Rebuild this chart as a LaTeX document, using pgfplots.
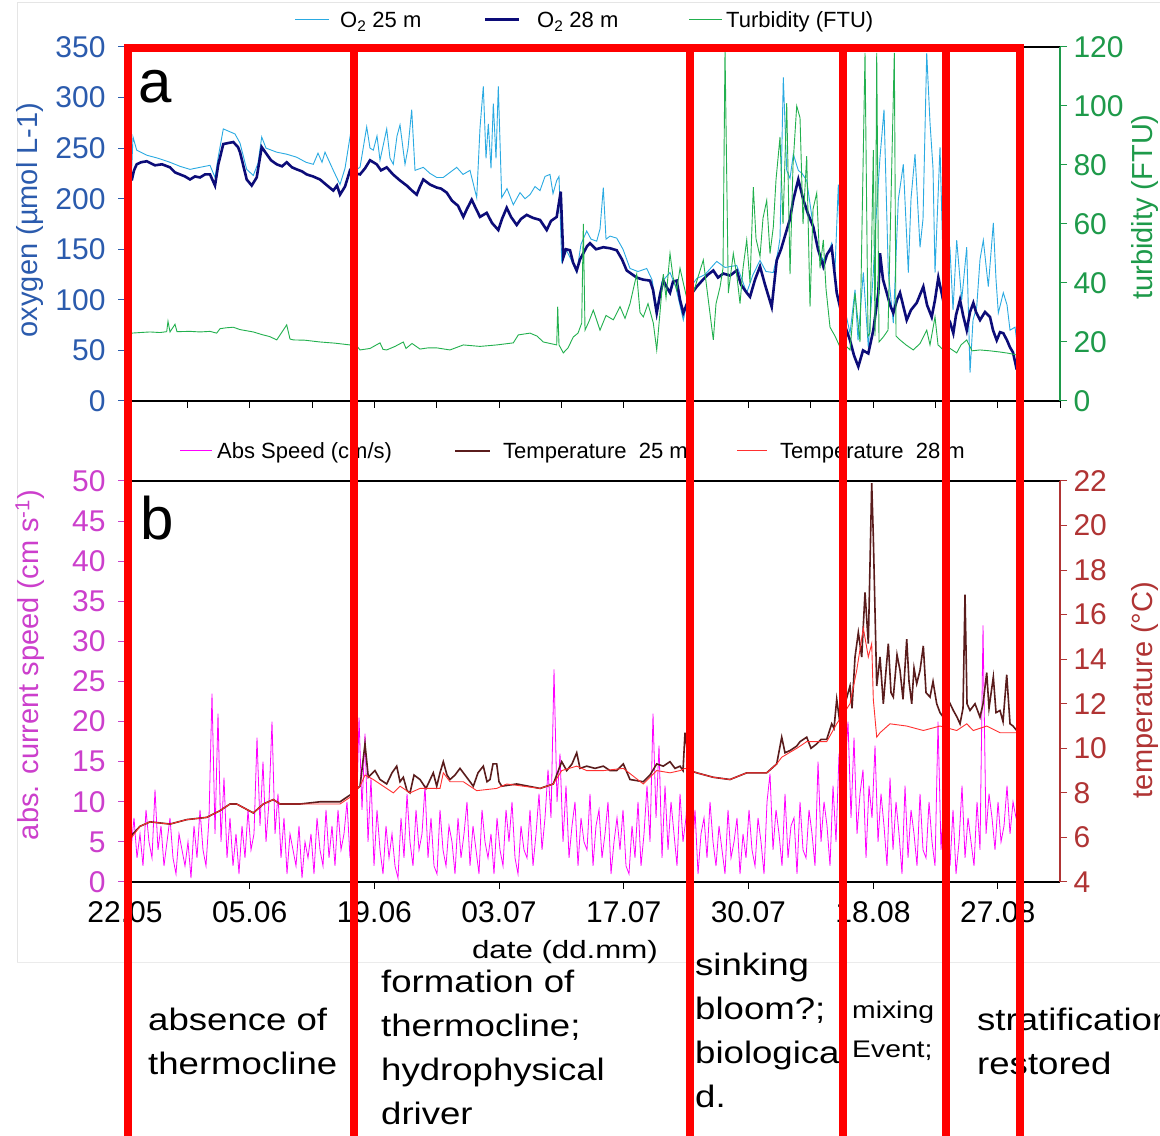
\documentclass[border=0pt]{standalone}
\usepackage{graphicx}
\usepackage{pgfplots}
\pgfplotsset{compat=1.18}
\usepackage{fontspec}
\setmainfont{Liberation Sans}
\definecolor{oxyaxis}{HTML}{2B5BAD}
\definecolor{turbaxis}{HTML}{1E9A4A}
\definecolor{otwofive}{HTML}{2AAAE2}
\definecolor{otwoeight}{HTML}{0C0C78}
\definecolor{turbline}{HTML}{22B04E}
\definecolor{spdaxis}{HTML}{CC3FCC}
\definecolor{spdline}{HTML}{FF00FF}
\definecolor{tempaxis}{HTML}{B03434}
\definecolor{ttwofive}{HTML}{5A1C1C}
\definecolor{ttwoeight}{HTML}{FF3030}
\newcommand{\fs}[1]{\fontsize{#1bp}{#1bp}\selectfont}
\newcommand{\wide}[1]{\scalebox{1.18}[1]{#1}}
\pgfplotsset{
  base/.style={
    scale only axis, width=935bp, xmin=125, xmax=1060,
    anchor=south west,
    tick align=outside, major tick length=7bp,
    /pgf/number format/assume math mode=true,
    ticklabel style={font=\fs{30}},
  },
}
\begin{document}
\begin{tikzpicture}[x=1bp,y=1bp]
\useasboundingbox (0,0) rectangle (1160,1136);
\fill[white] (0,0) rectangle (1160,1136);
\draw[black!10, line width=1bp] (17,1133) -- (1160,1133);
\draw[black!10, line width=1bp] (17,1133) -- (17,173);
\draw[black!8, line width=1bp] (17,173) -- (1160,173);
% ---------------- panel a ----------------
\begin{axis}[base, at={(125bp,735bp)}, height=354bp,
  ymin=0, ymax=350, ytick={0,50,...,350},
  xtick={125,187.33,249.67,312,374.33,436.67,499,561.33,623.67,686,748.33,810.67,873,935.33,997.67,1060},
  xticklabels={}, tick pos=left,
  separate axis lines,
  x axis line style={black, line width=1.3bp},
  y axis line style={oxyaxis, line width=1.3bp},
  xtick style={black, line width=1bp}, ytick style={oxyaxis, line width=1bp},
  yticklabel style={oxyaxis, xshift=-9bp},
]
\addplot[otwofive, line width=0.9bp] coordinates {
(131.7,230) (133,261) (136.7,248) (146.7,243) (158,240) (170,236) (180,232) (190,229) (200,231) (210,233) (215,221)
(218,240) (223.3,269) (235,264) (240,255) (246.7,229) (253.3,223) (258,235) (261.7,261) (266,250) (276.7,246) (286.7,244) (296.7,241)
(306,236) (313.3,234) (318,245) (322,236) (325,246) (333.3,228) (340,214) (345,230) (350,261) (355,228) (360,231) (366.7,271) (370,250) (373.3,248)
(377,262) (380,238) (386.7,269) (390,240) (393.3,234) (397,262) (400,273) (405,234) (408,250) (411.7,288) (415,228) (423.3,231)
(430,225) (436.7,221) (443.3,221) (450,226) (456.7,231) (463,224) (470,228) (476.7,201) (480,270) (483.3,311) (486,240) (488.3,274)
(491,230) (493.3,294) (496,240) (498.3,311) (501.7,201) (507,210) (513.3,194) (520,206) (525,200) (530,204) (535,212) (540,208) (545,222)
(550,224) (553,205) (556.7,218) (559,222) (561.7,138) (566,150) (571,140) (576.7,127) (581,155) (586.7,168) (591,160) (596.7,158) (600,170) (603.3,211)
(606,160) (610,163) (616.7,161) (623,150) (630,131) (638,128) (646.7,131) (652,120) (656.7,91) (662,118) (670,127) (676,112) (683.3,80)
(690,112) (696.7,121) (705,125) (716.7,138) (725,132) (736.7,134) (742,120) (746.7,107) (753,125) (760,139) (766,128) (773.3,127)
(778,148) (780,161) (783.3,320) (786.7,228) (790,220) (793.3,244) (798.3,228) (802,225) (806.7,218) (813.3,172) (818,150) (823.3,139)
(828,146) (831.7,156) (835,130) (838.3,214) (841.7,100) (845,90) (850,67) (855,110) (858,60) (863.3,127) (868.3,53) (873.3,127)
(876,180) (880,241) (884,288) (888.3,127) (893.3,77) (898.3,199) (903.3,234) (908.3,127) (911,200) (915,244) (920,152) (923,180)
(926.7,344) (930,275) (933,230) (935,127) (940,251) (943.3,127) (947,140) (950,150) (953,90) (956.7,159) (961.7,100) (966.7,152)
(970,28) (973,80) (976.7,93) (980,140) (983.3,159) (988.3,113) (993.3,176) (996,120) (998.3,87) (1003.3,107) (1007,95) (1010,70) (1015,73) (1018.3,47)
};
\addplot[otwoeight, line width=2.6bp] coordinates {
(131.7,218) (134,228) (136.7,234) (141,236) (146.7,237) (155,233) (162,234) (170,231) (175,226) (180,224) (185,222) (190,219) (195,222)
(200,221) (205,224) (210,224) (215,213) (218.3,234) (223.3,254) (228,255) (233.3,256) (238,251) (240,246) (246.7,219) (251.7,213)
(256.7,221) (261.7,251) (266.7,244) (271,238) (276.7,234) (282,232) (286.7,236) (292,231) (296.7,229) (302,227) (306.7,224) (313,222)
(320,219) (326,214) (333.3,208) (337,213) (340,204) (345,212) (350,228) (355,225) (360,224) (365,230) (370,238) (376.7,234) (381,228)
(386.7,231) (393,224) (400,218) (406.7,213) (412,208) (416.7,204) (420,212) (423.3,219) (430,214) (436.7,211) (441,210) (446.7,206)
(452,198) (458,193) (463.3,182) (467,190) (471.7,199) (476,190) (480,182) (486.7,186) (492,176) (498.3,169) (502,180) (506.7,191)
(511,182) (516.7,174) (521,180) (526.7,184) (533,181) (540,179) (546.7,169) (551,178) (556.7,182) (560.7,207) (563.3,142) (566,150)
(570,149) (573,137) (576.7,129) (580,140) (583.3,146) (587,153) (590,156) (596,150) (603.3,152) (610,151) (616.7,149) (622,140)
(626.7,129) (631,126) (636.7,122) (643,120) (650,119) (653,110) (656.7,87) (660,105) (663.3,119) (667,112) (670,107) (673,118) (676.7,119)
(680,100) (683.3,87) (690,104) (696.7,113) (703,120) (708,125) (713.3,129) (718,122) (723.3,126) (730,124) (736.7,129) (741,115)
(746.7,107) (750,103) (755,120) (760,133) (765,115) (771.7,93) (776.7,139) (781,150) (786.7,169) (790,180) (793.3,199) (798.3,219)
(803.3,199) (808,185) (813.3,172) (818,150) (823.3,133) (827,145) (831.7,152) (836.7,107) (843,80) (850,60) (854,45) (858.3,34)
(863,50) (868.3,47) (873.3,70) (878.3,107) (880,146) (883,120) (886.7,107) (890,95) (893.3,87) (897,100) (900,107) (906.7,80)
(911,90) (916.7,97) (920,105) (923.3,113) (927,95) (931.7,83) (935,100) (938.3,122) (942,105) (946,85) (950,78) (953.3,67) (956,85)
(960,100) (963,85) (966.7,70) (970,88) (973.3,97) (976,88) (980,80) (985,88) (990,83) (993,70) (996.7,60) (1000,68) (1003.3,67)
(1007,60) (1010,53) (1013,48) (1016.7,31)
};
\end{axis}
\begin{axis}[base, at={(125bp,735bp)}, height=354bp,
  ymin=0, ymax=120, ytick={0,20,...,120},
  axis x line=none, axis y line*=right,
  y axis line style={turbaxis, line width=1.3bp},
  ytick style={turbaxis, line width=1bp}, yticklabel style={turbaxis, xshift=3bp},
]
\addplot[turbline, line width=0.9bp] coordinates {
(131.7,23) (140,23.2) (150,23.4) (160,23.2) (166.7,23.5) (168,27) (170,23.4) (175,26) (177,23.5) (190,23.6) (200,23.4) (210,23.6)
(216.7,23) (220,24.5) (226,24.8) (233.3,25) (240,24.2) (253.3,23.4) (262,22.5) (270,21.8) (276.7,20.7) (286.7,25.8) (290,21) (293.3,20.7)
(305,20.6) (320,20) (335,19.6) (350,19) (355,19.4) (360,17.3) (370,17.8) (380,19.7) (383,17.5) (386.7,17.3) (395,18.5) (403.3,20) (406,17.8)
(412,19.5) (420,17.6) (428,18) (436.7,18) (450,17.3) (463.3,19) (480,18.5) (496.7,19) (513.3,19.7) (518.3,22.4) (530,23) (537,22)
(543.3,20) (556.7,19) (557.7,32) (559,19) (563.3,16.3) (568,18) (573.3,21.7) (578,23) (581.7,26.4) (583.3,60) (585,24) (589,27)
(593.3,30.8) (600,24) (606,29) (613.3,27.5) (620,32) (625,28) (630,33) (636.7,43) (640,30) (643.3,28.5) (648,33) (653.3,26.4) (656.7,17.3)
(660,30) (663.3,43) (666,35) (670,50) (673,42) (676.7,37.6) (680,45) (683.3,40) (688,33) (693.3,36.6) (698,42) (703.3,47.8) (708,35)
(713.3,20.7) (716,33) (720,38.6) (723,45) (725,119) (728.3,36.6) (733.3,50) (737,42) (740,33) (743,45) (746.7,54.6) (750,40)
(753.3,72.5) (756,55) (760,49) (763,62) (766.7,68) (770,50) (773.3,59) (776,75) (780,89.5) (783,60) (786.7,101) (790,43) (793,80)
(796.7,100) (800,96) (803,60) (806.7,83) (810,32) (813,65) (816.7,70.5) (820,45) (823.3,54.6) (826,38) (830,25) (835,22) (840,18.3)
(845,19) (850,17.3) (855,36.6) (860,20) (865,118) (868,22) (870,23) (873.3,85) (875,22) (876.7,118) (879,20) (883.3,21.7) (888,24)
(894.3,118) (896,22) (900,20.7) (906,19) (913.3,17.3) (920,19.5) (926.7,24) (930,19) (935,28.5) (938,19) (943.3,17.3) (950,17.8)
(956.7,16.3) (961,19) (966.7,20.7) (972,17) (980,17.3) (990,17) (1000,16.6) (1008,16.2) (1016.7,15.6)
};
\end{axis}
% ---------------- panel b ----------------
\begin{axis}[base, at={(125bp,254bp)}, height=401bp,
  ymin=0, ymax=50, ytick={0,5,...,50},
  xtick={125,249.67,374.33,499,623.67,748.33,873,997.67},
  xticklabels={22.05,05.06,19.06,03.07,17.07,30.07,18.08,27.08},
  tick pos=left,
  separate axis lines,
  x axis line style={black, line width=1.3bp},
  y axis line style={spdaxis, line width=1.3bp},
  xtick style={black, line width=1bp}, ytick style={spdaxis, line width=1bp},
  yticklabel style={spdaxis, xshift=-9bp},
  xticklabel style={black, yshift=-9bp},
]
\addplot[spdline, line width=0.8bp] coordinates {
(128,7) (131,4) (134,8) (137,3) (140,6) (143,2) (146,9) (149,5) (152,3) (155,11.5)
(158,4) (161,7) (164,2) (167,5) (170,8) (173,3) (176,1) (179,6) (182,4) (185,2)
(188,5) (191,0.5) (194,7) (197,3) (200,9) (203,4) (206,2) (209,8) (212,23.5) (215,6)
(218,21) (221,5) (224,13) (227,3) (230,8) (233,2) (236,6) (239,1) (242,7) (245,3)
(248,9) (251,4) (254,6) (257,18) (260,7) (263,15) (266,5) (269,10) (272,20) (275,6)
(278,11) (281,3) (284,8) (287,1) (290,6) (293,4) (296,2) (299,7) (302,0.5) (305,5)
(308,3) (311,6) (314,1) (317,8) (320,4) (323,2) (326,9) (329,3) (332,7) (335,2)
(338,9) (341,4) (344,6) (347,10) (350,3) (353,8) (356,6) (359,20.5) (362,9) (365,18.5)
(368,5) (371,13) (374,2) (377,9) (380,4) (383,1) (386,7) (389,3) (392,6) (395,2)
(398,0.5) (401,8) (404,3) (407,11) (410,5) (413,2) (416,9) (419,4) (422,6) (425,12)
(428,3) (431,8) (434,2) (437,1) (440,9) (443,4) (446,2) (449,7) (452,5) (455,1)
(458,8) (461,3) (464,6) (467,10) (470,2) (473,7) (476,4) (479,1) (482,9) (485,5)
(488,3) (491,6) (494,1) (497,8) (500,4) (503,2) (506,9) (509,5) (512,10) (515,3)
(518,1) (521,7) (524,4) (527,3) (530,9) (533,2) (536,6) (539,11) (542,4) (545,8)
(548,14) (551,8) (554,26.5) (557,10) (560,16) (563,5) (566,12) (569,3) (572,7) (575,10)
(578,2) (581,8) (584,5) (587,4) (590,11) (593,2) (596,7) (599,9) (602,3) (605,6)
(608,10) (611,1) (614,5) (617,8) (620,4) (623,9) (626,2) (629,1) (632,7) (635,3)
(638,10) (641,2) (644,6) (647,12) (650,5) (653,21) (656,8) (659,17) (662,3) (665,12)
(668,4) (671,10) (674,6) (677,2) (680,11) (683,5) (686,8) (689,14) (692,3) (695,9)
(698,1) (701,6) (704,8) (707,3) (710,10) (713,5) (716,2) (719,7) (722,4) (725,1)
(728,9) (731,3) (734,5) (737,8) (740,1) (743,6) (746,3) (749,9) (752,4) (755,2)
(758,8) (761,5) (764,1) (767,10) (770,13.5) (773,4) (776,9) (779,6) (782,2) (785,11)
(788,3) (791,7) (794,8) (797,1) (800,10) (803,4) (806,3) (809,9) (812,6) (815,2)
(818,15) (821,5) (824,10) (827,7) (830,2) (833,12) (836,5) (839,16) (842,7) (845,14)
(848,20) (851,8) (854,18) (857,6) (860,11) (863,14) (866,3) (869,12) (872,8) (875,17)
(878,5) (881,11) (884,7) (887,2) (890,13) (893,4) (896,10) (899,6) (902,1) (905,12)
(908,3) (911,9) (914,6) (917,2) (920,11) (923,4) (926,3) (929,10) (932,5) (935,2)
(938,20) (941,4) (944,11) (947,7) (950,2) (953,9) (956,1) (959,5) (962,12) (965,3)
(968,8) (971,5) (974,2) (977,10) (980,4) (983,32) (986,6) (989,11) (992,8) (995,4)
(998,10) (1001,5) (1004,7) (1007,12) (1010,6) (1013,10) (1016,8) (1019,7)
};
\end{axis}
\begin{axis}[base, at={(125bp,254bp)}, height=401bp,
  ymin=4, ymax=22, ytick={4,6,...,22},
  axis x line=none, axis y line*=right,
  y axis line style={tempaxis, line width=1.3bp},
  ytick style={tempaxis, line width=1bp}, yticklabel style={tempaxis, xshift=3bp},
]
\addplot[ttwofive, line width=1.6bp] coordinates {
(131.7,6.1) (140,6.5) (150,6.7) (170,6.6) (186.7,6.8) (206.7,6.9) (220,7.2) (230,7.5) (236.7,7.5) (253.3,7.1) (263.3,7.5) (273.3,7.7)
(280,7.5) (300,7.5) (320,7.6) (340,7.6) (350,7.9) (360,8.3) (365,10.2) (368.3,8.7) (375,9.0) (380,8.6) (386.7,8.4) (392,8.9) (396.7,9.2)
(400,8.5) (403.3,8.7) (407,8.1) (410,8.0) (414,8.8) (420,8.6) (426,8.2) (433.3,8.9) (436.7,8.3) (440,8.9) (443.3,9.4) (447,8.8) (450,8.6)
(455,8.8) (460,9.1) (466.7,8.7) (473.3,8.3) (478,8.9) (483.3,9.2) (487,8.5) (490,8.6) (493,9.3) (496.7,9.3) (499,8.5) (501.7,8.3)
(516.7,8.4) (540,8.2) (553.3,8.4) (561.7,9.4) (566.7,9.0) (572,9.3) (576.7,9.8) (580,9.1) (586.7,9.2) (595,9.1) (603.3,9.2) (610,9.0)
(616.7,9.0) (623.3,9.3) (630,8.6) (643.3,8.5) (650,8.8) (656.7,9.3) (663.3,9.2) (670,9.4) (675,9.1) (680,9.2) (683,9.0) (685,10.7)
(690,9.0) (696.7,8.9) (713.3,8.7) (730,8.6) (746.7,8.9) (753.3,8.9) (766.7,8.9) (776.7,9.3) (781.7,10.5) (785,9.8) (790,9.9)
(796.7,10.1) (800,10.3) (806.7,10.5) (811,10.0) (816.7,10.2) (821,10.4) (826.7,10.4) (831.7,11.1) (834,10.9) (836.7,12.2) (840,11.1)
(845,12.0) (850,12.8) (852,11.8) (855,14.1) (858.3,15.2) (861.7,14.1) (865,17.0) (868.3,14.7) (871.7,21.9) (873.3,19.5) (876.7,12.8)
(880,14.1) (883.3,12.0) (886,13.5) (888.3,14.7) (891,12.5) (893.3,12.3) (897,14.2) (900,13.5) (903,12.2) (906.7,14.9) (909,13.0)
(911.7,12.0) (914,13.6) (916.7,12.9) (920,13.5) (923.3,14.6) (926,12.5) (930,12.3) (933,13.0) (936.7,12.0) (940,11.6) (943.3,11.4)
(948,12.2) (953.3,11.7) (957,11.4) (960,11.1) (963,11.8) (965,16.9) (967,12.0) (970,11.7) (975,12.0) (980,11.4) (983,12.0)
(986.7,13.4) (989,11.8) (993.3,13.2) (996,11.6) (1000,11.7) (1003,11.2) (1006.7,13.3) (1010,11.1) (1013,11.0) (1016.7,10.8)
};
\addplot[ttwoeight, line width=0.9bp] coordinates {
(131.7,6.0) (140,6.5) (150,6.7) (170,6.6) (186.7,6.8) (206.7,6.9) (220,7.2) (230,7.5) (236.7,7.5) (253.3,7.1) (263.3,7.5) (273.3,7.7)
(280,7.5) (300,7.5) (320,7.5) (340,7.5) (350,7.8) (360,8.3) (365,8.8) (373.3,8.6) (380,8.4) (393.3,8.0) (400,8.3) (410,8.0) (420,8.2)
(440,8.2) (443.3,8.9) (450,8.5) (463.3,8.5) (476.7,8.1) (496.7,8.2) (506.7,8.4) (540,8.2) (553.3,8.4) (561.7,9.0) (576.7,9.2) (586.7,9.0)
(603.3,9.0) (623.3,9.1) (643.3,8.4) (656.7,9.0) (670,8.9) (680,9.0) (685,9.1) (696.7,8.9) (713.3,8.7) (730,8.6) (746.7,8.9) (766.7,8.9)
(776.7,9.3) (781.7,9.6) (796.7,10.0) (806.7,10.3) (826.7,10.3) (836.7,11.1) (850,12.0) (856.7,13.5) (863.3,15.4) (868.3,14.1)
(871.7,14.7) (873.3,12.2) (876.7,10.5) (880,10.7) (890,11.1) (906.7,11.0) (923.3,10.8) (940,11.0) (956.7,10.8) (966.7,11.1)
(973.3,10.8) (986.7,11.0) (1000,10.7) (1016.7,10.7)
};
\end{axis}
% ---------------- legends ----------------
\draw[otwofive, line width=1bp] (295,1116) -- (329,1116);
\node[anchor=base west, inner sep=0pt, font=\fs{22}] at (340,1108) {O\textsubscript{2} 25 m};
\draw[otwoeight, line width=3bp] (485,1116) -- (519,1116);
\node[anchor=base west, inner sep=0pt, font=\fs{22}] at (537,1108) {O\textsubscript{2} 28 m};
\draw[turbline, line width=1bp] (689,1116) -- (722,1116);
\node[anchor=base west, inner sep=0pt, font=\fs{22}] at (726,1108) {Turbidity (FTU)};
\draw[spdline, line width=1bp] (180,685) -- (212,685);
\node[anchor=base west, inner sep=0pt, font=\fs{22}] at (217,677) {Abs Speed (cm/s)};
\draw[ttwofive, line width=2bp] (455,685) -- (490,685);
\node[anchor=base west, inner sep=0pt, font=\fs{22}] at (503,677) {Temperature\ \ 25 m};
\draw[ttwoeight, line width=1bp] (737,685) -- (767,685);
\node[anchor=base west, inner sep=0pt, font=\fs{22}] at (780,677) {Temperature\ \ 28 m};
% ---------------- axis labels ----------------
\node[rotate=90, font=\fs{29}, text=oxyaxis] at (30,916) {oxygen (µmol L-1)};
\node[rotate=90, font=\fs{29}, text=turbaxis] at (1145,929) {turbidity (FTU)};
\node[rotate=90, font=\fs{29}, text=spdaxis] at (30,471) {abs. current speed (cm s\textsuperscript{-1})};
\node[rotate=90, font=\fs{29}, text=tempaxis] at (1145,446) {temperature (°C)};
\node[font=\fs{25}] at (565,184) {\scalebox{1.25}[1]{date (dd.mm)}};
\node[anchor=base west, inner sep=0pt, font=\fs{60}] at (138,1033) {a};
\node[anchor=base west, inner sep=0pt, font=\fs{60}] at (140,596) {b};
% ---------------- annotations ----------------
\begin{scope}[every node/.style={anchor=base west, inner sep=0pt, font=\fs{31}}]
\node at (148,105) {\wide{absence of}};
\node at (148,61) {\wide{thermocline}};
\node at (381,143) {\wide{formation of}};
\node at (381,99) {\wide{thermocline;}};
\node at (381,55) {\wide{hydrophysical}};
\node at (381,11) {\wide{driver}};
\node at (695,160) {\wide{sinking}};
\node at (695,116) {\wide{bloom?;}};
\node at (695,72) {\wide{biological}};
\node at (695,28) {\wide{d.}};
\node at (977,105) {\wide{stratification}};
\node at (977,61) {\wide{restored}};
\node[font=\fs{24}] at (852,117) {\wide{mixing}};
\node[font=\fs{24}] at (852,78) {\wide{Event;}};
\end{scope}
% ---------------- red boxes ----------------
\draw[red, line width=8bp, line join=miter] (128,-10) -- (128,1088) -- (1020,1088) -- (1020,-10);
\foreach \xx in {354,690,843,946} {\draw[red, line width=8bp] (\xx,-10) -- (\xx,1088);}
\end{tikzpicture}
\end{document}
